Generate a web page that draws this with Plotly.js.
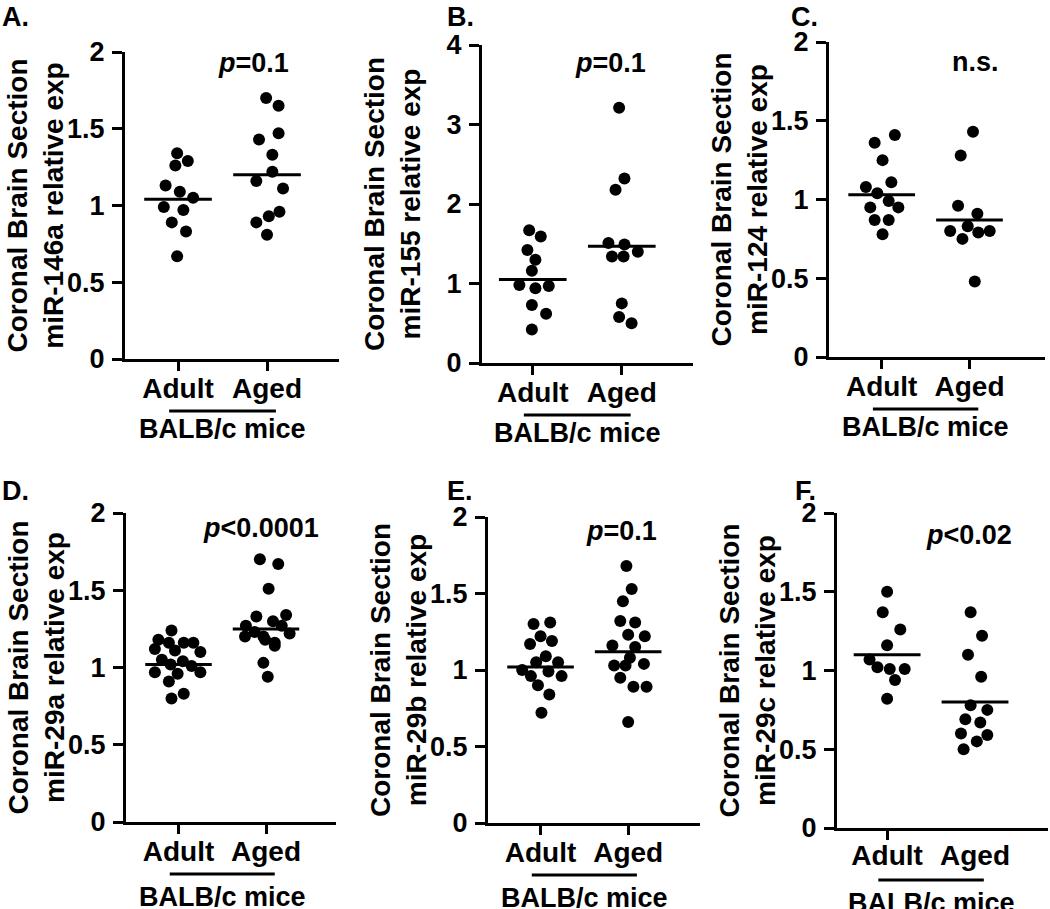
<!DOCTYPE html>
<html>
<head>
<meta charset="utf-8">
<script src="https://cdn.plot.ly/plotly-3.0.1.min.js"></script>
<style>
  html, body { margin: 0; padding: 0; background: #fff; }
  #chart { width: 1050px; height: 909px; }
</style>
</head>
<body>
<div id="chart"></div>
<script>
const groups = ['<b>Adult</b>', '<b>Aged</b>'];
const strainLabel = 'BALB/c mice';
const sectionLabel = 'Coronal Brain Section';

// A. miR-146a
const a146Adult = [1.34, 1.29, 1.26, 1.13, 1.09, 1.05, 0.99, 0.97, 0.89, 0.83, 0.67];
const a146AdultJitter = [-0.01, 0.11, -0.03, -0.14, 0.02, 0.17, -0.16, 0.06, -0.07, 0.09, -0.01];
const a146Aged = [1.70, 1.65, 1.47, 1.43, 1.33, 1.22, 1.16, 1.11, 0.96, 0.93, 0.89, 0.81];
const a146AgedJitter = [-0.01, 0.13, 0.13, -0.09, 0.06, 0.06, -0.12, 0.18, 0.14, 0.02, -0.12, 0];
const a146Median = [1.04, 1.20];

// B. miR-155
const b155Adult = [1.67, 1.59, 1.42, 1.30, 1.16, 0.98, 0.94, 0.97, 0.73, 0.62, 0.42];
const b155AdultJitter = [-0.04, 0.09, -0.06, 0.03, -0.01, -0.15, 0.03, 0.18, -0.01, 0.15, -0.01];
const b155Aged = [3.21, 2.32, 2.18, 1.51, 1.49, 1.34, 1.34, 1.40, 0.75, 0.58, 0.50];
const b155AgedJitter = [-0.03, 0.03, -0.07, -0.15, 0.03, -0.11, 0.02, 0.18, 0, -0.03, 0.11];
const b155Median = [1.05, 1.47];

// C. miR-124
const c124Adult = [1.41, 1.36, 1.25, 1.11, 1.08, 1.04, 0.99, 0.95, 0.95, 0.87, 0.87, 0.78];
const c124AdultJitter = [0.15, -0.08, 0.01, 0.11, -0.18, -0.05, 0.08, -0.13, 0.19, -0.08, 0.08, 0.01];
const c124Aged = [1.43, 1.28, 0.96, 0.91, 0.83, 0.80, 0.80, 0.79, 0.75, 0.48];
const c124AgedJitter = [0.04, -0.10, -0.13, 0.09, -0.02, -0.22, 0.23, 0.10, -0.08, 0.06];
const c124Median = [1.03, 0.87];

// D. miR-29a
const d29aAdult = [1.24, 1.18, 1.16, 1.16, 1.16, 1.12, 1.11, 1.10, 1.05, 1.04, 1.02, 1.01, 0.97, 0.97, 0.96, 0.91, 0.83, 0.80];
const d29aAdultJitter = [-0.08, -0.23, -0.11, 0.06, 0.17, -0.27, -0.04, 0.25, -0.19, 0.05, -0.09, 0.15, -0.27, 0.25, -0.01, -0.11, 0.06, -0.08];
const d29aAged = [1.70, 1.67, 1.51, 1.33, 1.34, 1.30, 1.27, 1.23, 1.27, 1.20, 1.20, 1.22, 1.16, 1.18, 1.14, 1.03, 0.94];
const d29aAgedJitter = [-0.07, 0.14, 0.03, -0.11, 0.23, 0.08, -0.23, -0.13, 0.18, -0.24, -0.03, 0.27, 0.10, -0.01, 0.10, -0.03, 0.02];
const d29aMedian = [1.02, 1.25];

// E. miR-29b
const e29bAdult = [1.30, 1.31, 1.22, 1.19, 1.17, 1.09, 1.05, 1.05, 1.00, 0.96, 0.99, 0.96, 0.90, 0.84, 0.72];
const e29bAdultJitter = [-0.08, 0.11, 0, 0.13, -0.12, 0.06, -0.05, 0.20, -0.21, -0.11, 0.09, 0.24, -0.03, 0.10, 0.01];
const e29bAged = [1.68, 1.53, 1.45, 1.32, 1.31, 1.23, 1.22, 1.16, 1.15, 1.08, 1.03, 1.03, 1.04, 0.95, 0.89, 0.89, 0.66];
const e29bAgedJitter = [-0.02, 0.04, -0.06, -0.09, 0.08, 0, 0.19, -0.18, 0.08, 0.02, -0.16, -0.03, 0.18, -0.09, 0.06, 0.21, 0];
const e29bMedian = [1.02, 1.12];

// F. miR-29c
const f29cAdult = [1.50, 1.37, 1.26, 1.16, 1.07, 1.02, 1.01, 1.01, 0.94, 0.82];
const f29cAdultJitter = [0, -0.05, 0.15, 0, -0.20, -0.11, 0.03, 0.20, 0.09, 0];
const f29cAged = [1.37, 1.22, 1.10, 0.96, 0.78, 0.75, 0.69, 0.67, 0.60, 0.59, 0.55, 0.50];
const f29cAgedJitter = [-0.05, 0.08, -0.08, 0.07, -0.05, 0.14, -0.11, 0.06, -0.16, 0.14, 0.02, -0.13];
const f29cMedian = [1.10, 0.80];

const ticks2 = [0, 0.5, 1, 1.5, 2];
const ticks4 = [0, 1, 2, 3, 4];

const W = 1050, H = 909;
const FONT = 'Liberation Sans, Arial, Helvetica, sans-serif';

// pixel boxes of each panel's axes: [left, right, top, bottom]
const panels = [
  { letter: 'A.', mir: 'miR-146a', adult: a146Adult, adultJit: a146AdultJitter, aged: a146Aged, agedJit: a146AgedJitter,
    median: a146Median, yTicks: ticks2, note: '<i>p</i>=0.1', noteAt: [1.85, 1.93],
    box: [125, 339, 52, 359], xRange: [0.404, 2.809], letterAt: [1, 17] },
  { letter: 'B.', mir: 'miR-155', adult: b155Adult, adultJit: b155AdultJitter, aged: b155Aged, agedJit: b155AgedJitter,
    median: b155Median, yTicks: ticks4, note: '<i>p</i>=0.1', noteAt: [1.87, 3.77],
    box: [482, 693, 45, 363], xRange: [0.43, 2.80], letterAt: [446, 17] },
  { letter: 'C.', mir: 'miR-124', adult: c124Adult, adultJit: c124AdultJitter, aged: c124Aged, agedJit: c124AgedJitter,
    median: c124Median, yTicks: ticks2, note: 'n.s.', noteAt: [2.07, 1.87],
    box: [829, 1045, 42, 357], xRange: [0.40, 2.86], letterAt: [790, 17] },
  { letter: 'D.', mir: 'miR-29a', adult: d29aAdult, adultJit: d29aAdultJitter, aged: d29aAged, agedJit: d29aAgedJitter,
    median: d29aMedian, yTicks: ticks2, note: '<i>p</i><0.0001', noteAt: [1.94, 1.905],
    box: [126, 336, 513, 822], xRange: [0.40, 2.80], letterAt: [1, 491] },
  { letter: 'E.', mir: 'miR-29b', adult: e29bAdult, adultJit: e29bAdultJitter, aged: e29bAged, agedJit: e29bAgedJitter,
    median: e29bMedian, yTicks: ticks2, note: '<i>p</i>=0.1', noteAt: [1.92, 1.907],
    box: [488, 700, 517, 823], xRange: [0.40, 2.82], letterAt: [446, 491] },
  { letter: 'F.', mir: 'miR-29c', adult: f29cAdult, adultJit: f29cAdultJitter, aged: f29cAged, agedJit: f29cAgedJitter,
    median: f29cMedian, yTicks: ticks2, note: '<i>p</i><0.02', noteAt: [1.93, 1.86],
    box: [837, 1048, 513, 828], xRange: [0.43, 2.83], letterAt: [794, 491], onlyFirstTick: true }
];

const data = [];
const layout = {
  width: W,
  height: H,
  margin: { l: 0, r: 0, t: 0, b: 0 },
  paper_bgcolor: '#fff',
  plot_bgcolor: '#fff',
  showlegend: false,
  font: { family: FONT, color: '#000', size: 28 },
  annotations: [],
  shapes: []
};

panels.forEach((p, i) => {
  const n = i === 0 ? '' : String(i + 1);
  const xa = 'x' + n, ya = 'y' + n;
  const [left, right, top, bottom] = p.box;

  data.push({
    x: p.adult.map((v, k) => 1 + p.adultJit[k]), y: p.adult,
    mode: 'markers', type: 'scatter', xaxis: xa, yaxis: ya,
    marker: { size: 12, color: '#000' }
  });
  data.push({
    x: p.aged.map((v, k) => 2 + p.agedJit[k]), y: p.aged,
    mode: 'markers', type: 'scatter', xaxis: xa, yaxis: ya,
    marker: { size: 12, color: '#000' }
  });
  // median bars
  data.push({
    x: [0.62, 1.38, null, 1.62, 2.38],
    y: [p.median[0], p.median[0], null, p.median[1], p.median[1]],
    mode: 'lines', type: 'scatter', xaxis: xa, yaxis: ya,
    line: { color: '#000', width: 3 }
  });

  const xAxis = {
    domain: [left / W, right / W],
    range: p.xRange,
    anchor: ya,
    showline: true, linewidth: 3, linecolor: '#000',
    ticks: p.onlyFirstTick ? '' : 'outside', ticklen: 9, tickwidth: 3, tickcolor: '#000',
    tickvals: [1, 2], ticktext: groups,
    tickfont: { size: 28 },
    ticklabelstandoff: p.onlyFirstTick ? 0 : -7,
    showgrid: false, zeroline: false, fixedrange: true
  };
  if (p.onlyFirstTick) {
    // panel F only has a tick under Adult
    xAxis.minor = { tickmode: 'array', tickvals: [1.001], ticks: 'outside', ticklen: 9, tickwidth: 3, tickcolor: '#000', showgrid: false };
  }
  layout['xaxis' + n] = xAxis;
  layout['yaxis' + n] = {
    domain: [1 - bottom / H, 1 - top / H],
    range: [p.yTicks[0], p.yTicks[p.yTicks.length - 1]],
    anchor: xa,
    showline: true, linewidth: 3, linecolor: '#000',
    ticks: 'outside', ticklen: 10, tickwidth: 3, tickcolor: '#000',
    tickvals: p.yTicks,
    ticktext: p.yTicks.map(v => '<b>' + v + '</b>'),
    tickfont: { size: 27 },
    ticklabelstandoff: 2,
    showgrid: false, zeroline: false, fixedrange: true
  };

  const row2 = i >= 3;
  layout.annotations.push(
    { text: '<b>' + p.letter + '</b>', xref: 'paper', yref: 'paper',
      x: p.letterAt[0] / W, y: 1 - p.letterAt[1] / H, xanchor: 'left', yanchor: 'middle',
      borderpad: 0, showarrow: false, font: { size: 27 } },
    { text: '<b>' + sectionLabel + '<br>' + p.mir + ' relative exp</b>', textangle: -90,
      xref: 'paper', yref: 'paper', x: (left - 90) / W, y: 1 - (top + bottom) / 2 / H,
      xanchor: 'center', yanchor: 'middle', showarrow: false, font: { size: 28 } },
    { text: '<b>' + p.note + '</b>', xref: xa, yref: ya, x: p.noteAt[0], y: p.noteAt[1],
      xanchor: 'center', yanchor: 'middle', showarrow: false, font: { size: 27 } },
    { text: '<b>' + strainLabel + '</b>', xref: xa, yref: 'paper', x: 1.5, y: 1 - (bottom + (row2 ? 75 : 70)) / H,
      xanchor: 'center', yanchor: 'middle', showarrow: false, font: { size: 27 } }
  );
  layout.shapes.push({
    type: 'line', xref: xa, yref: 'paper', x0: 0.9, x1: 2.1,
    y0: 1 - (bottom + 52) / H, y1: 1 - (bottom + 52) / H,
    line: { color: '#000', width: 3 }
  });
});

Plotly.newPlot('chart', data, layout, { displayModeBar: false, staticPlot: true });
</script>
</body>
</html>
